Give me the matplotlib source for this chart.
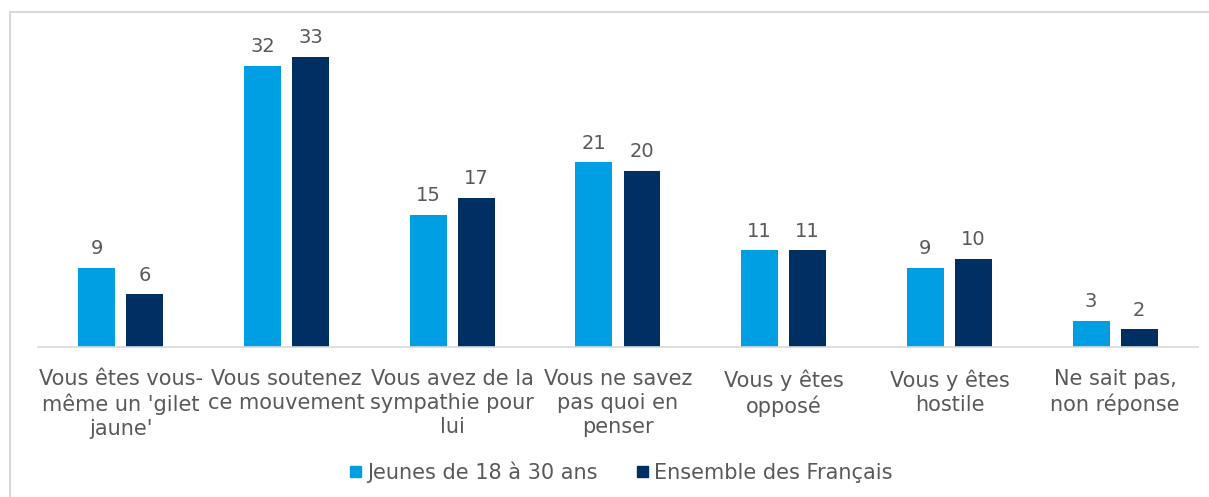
import matplotlib.pyplot as plt
import numpy as np
from matplotlib.lines import Line2D
from matplotlib.patches import Patch

categories = [
    "Vous êtes vous-\nmême un 'gilet\njaune'",
    "Vous soutenez\nce mouvement",
    "Vous avez de la\nsympathie pour\nlui",
    "Vous ne savez\npas quoi en\npenser",
    "Vous y êtes\nopposé",
    "Vous y êtes\nhostile",
    "Ne sait pas,\nnon réponse",
]
jeunes = [9, 32, 15, 21, 11, 9, 3]
ensemble = [6, 33, 17, 20, 11, 10, 2]
series_names = ["Jeunes de 18 à 30 ans", "Ensemble des Français"]

c_light = "#009FE3"
c_dark = "#003063"
txt = "#595959"

plt.rcParams['font.family'] = ['DejaVu Sans']

fig = plt.figure(figsize=(12.09, 4.97), dpi=100)
ax = fig.add_axes([0.0314, 0.3018, 0.9595, 0.6367])

x = np.arange(len(categories))
w = 0.223
off = 0.145
b1 = ax.bar(x - off, jeunes, w, color=c_light)
b2 = ax.bar(x + off, ensemble, w, color=c_dark)

for bars, vals in ((b1, jeunes), (b2, ensemble)):
    for b, v in zip(bars, vals):
        ax.annotate(str(v), (b.get_x() + b.get_width() / 2, v),
                    xytext=(0, 7), textcoords="offset points",
                    ha="center", va="bottom", fontsize=14, color=txt)

ax.set_xlim(-0.5, len(categories) - 0.5)
ax.set_ylim(0, 36)
ax.set_yticks([])
ax.set_xticks(x)
ax.set_xticklabels(categories, fontsize=15, color=txt, linespacing=1.25)
ax.tick_params(axis="x", length=0, pad=16)
for s in ["top", "right", "left"]:
    ax.spines[s].set_visible(False)
ax.spines["bottom"].set_color("#D9D9D9")
ax.spines["bottom"].set_linewidth(1.2)

handles = [Patch(color=c_light), Patch(color=c_dark)]
fig.legend(handles, series_names, loc="center", bbox_to_anchor=(0.514, 0.05),
           ncol=2, frameon=False, fontsize=15, labelcolor=txt,
           handlelength=0.5, handleheight=0.5, handletextpad=0.3,
           columnspacing=1.9)

# outer chart border
fig.add_artist(Line2D([10 / 1209, 1.0], [1 - 12 / 497, 1 - 12 / 497],
                      transform=fig.transFigure, color="#D9D9D9", lw=1.5))
fig.add_artist(Line2D([10 / 1209, 10 / 1209], [0.0, 1 - 12 / 497],
                      transform=fig.transFigure, color="#D9D9D9", lw=1.5))

fig.savefig("out.png", dpi=100)
